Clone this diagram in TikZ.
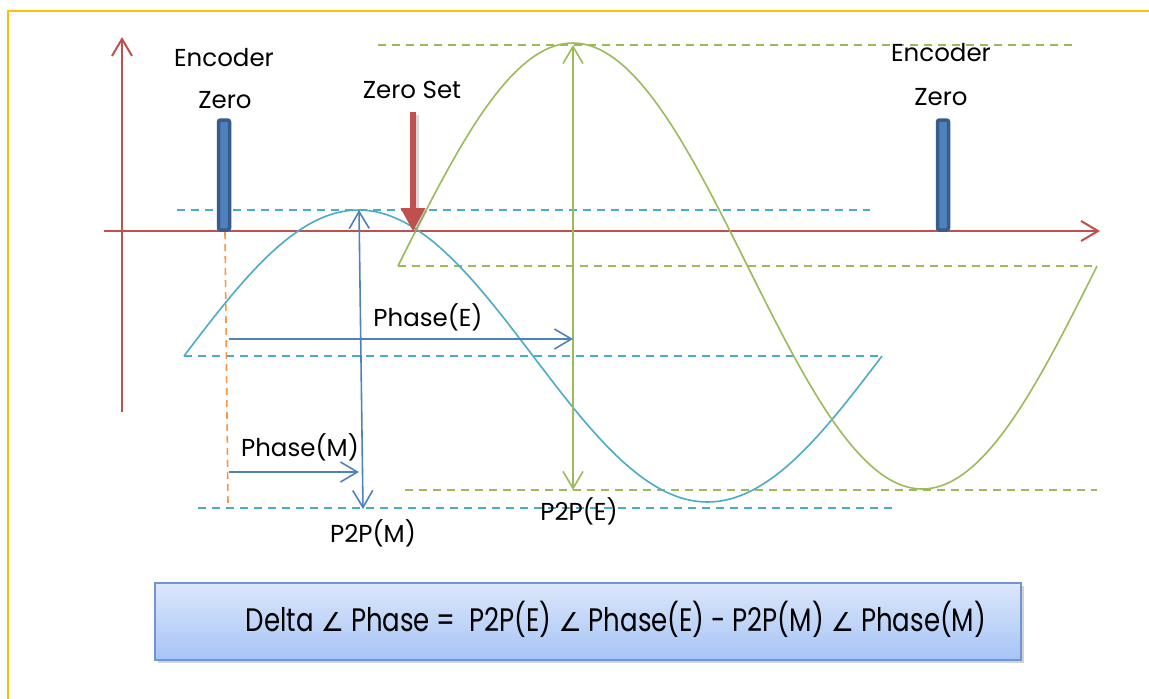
\documentclass[tikz,border=0pt]{standalone}
\usepackage{fontspec}
\setmainfont{Poppins}
\newfontfamily\boxfont[FakeStretch=0.8]{Poppins}
\newfontfamily\symfont{DejaVu Sans}
\usetikzlibrary{arrows.meta,shadows,calc}
\definecolor{axisred}{HTML}{C0504D}
\definecolor{cyanc}{HTML}{4BACC6}
\definecolor{greenc}{HTML}{9BBB59}
\definecolor{bluec}{HTML}{4F81BD}
\definecolor{orangec}{HTML}{F79646}
\definecolor{bardark}{HTML}{385D8A}
\definecolor{framey}{HTML}{FFC000}
\definecolor{boxtop}{HTML}{DCE7FA}
\definecolor{boxbot}{HTML}{A6C4F6}
\definecolor{boxline}{HTML}{7096D2}
\begin{document}
\begin{tikzpicture}[x=1pt,y=-1pt,
  >={Straight Barb[length=17pt,width=20pt]},
  lbl/.style={font=\fontsize{24.5}{28}\selectfont, inner sep=0pt},
  guide/.style={dash pattern=on 8pt off 6pt, line width=1.6pt},
  axisline/.style={draw=axisred, line width=2pt, ->},
  curve/.style={line width=1.6pt},
  bararrow/.style={draw=bluec, line width=1.6pt},
  encbar/.style={draw=bardark, line width=3.5pt, fill=bluec, minimum width=11pt, minimum height=110pt, rounded corners=2pt, inner sep=0pt},
  eqbox/.style={draw=boxline, line width=1.5pt, top color=boxtop, bottom color=boxbot, minimum width=866pt, minimum height=77pt, inner sep=0pt, drop shadow={shadow xshift=3pt, shadow yshift=-3pt, opacity=0.35}},
]
\useasboundingbox (0,0) rectangle (1149,699);
\fill[white] (0,0) rectangle (1149,699);
% frame
\draw[framey, line width=1.5pt] (8,699) -- (8,11) -- (1149,11);

% guide lines
\draw[guide, greenc] (378,45) -- (1072,45);
\draw[guide, greenc] (398,266) -- (1097,266);
\draw[guide, greenc] (405,490) -- (1097,490);
\draw[guide, cyanc] (177,210) -- (870,210);
\draw[guide, cyanc] (184,356) -- (882,356);
\draw[guide, cyanc] (198,508) -- (892,508);

% axes
\coordinate (ybot) at (122,412);
\coordinate (ytop) at (122,37);
\coordinate (xleft) at (104,231);
\coordinate (xright) at (1100,231);
\draw[axisline] (ybot) -- (ytop);
\draw[axisline] (xleft) -- (xright);

% curves
\draw[curve, cyanc] plot[domain=184:882, samples=140] (\x, {356 - 146*sin((\x-184)/698*360)});
\draw[curve, greenc] plot[domain=398:1097, samples=140] (\x, {266 - 223*sin((\x-398)/699*360)});

% orange dashed
\coordinate (oTop) at (225,232);
\coordinate (oBot) at (228,504);
\draw[orangec, line width=1.6pt, dash pattern=on 7pt off 5pt] (oTop) -- (oBot);

% encoder bars
\node[encbar] (barL) at (224,175) {};
\node[encbar] (barR) at (943,175) {};

% labels
\node[lbl] (encL1) at (224,58) {Encoder};
\node[lbl] (encL2) at (225,100) {Zero};
\node[lbl] (encR1) at (941,53) {Encoder};
\node[lbl] (encR2) at (941,97) {Zero};
\node[lbl] (zs) at (412,90) {Zero Set};

% zero set arrow
\coordinate (zsTop) at (413,112);
\coordinate (zsTip) at (413,231);
\draw[gray, opacity=0.3, line width=6pt, -{Triangle[length=23pt,width=25pt,line width=0pt]}] ($(zsTop)+(2.5,2.5)$) -- ($(zsTip)+(2.5,2.5)$);
\draw[axisred, line width=6pt, -{Triangle[length=23pt,width=25pt,line width=0pt]}] (zsTop) -- (zsTip);

% measurement arrows
\coordinate (mTop) at (359,210);
\coordinate (mBot) at (363,509);
\draw[bararrow, <->] (mTop) -- (mBot);
\coordinate (eTop) at (573,45);
\coordinate (eBot) at (573,490);
\draw[draw=greenc, line width=1.6pt, <->] (eTop) -- (eBot);
\coordinate (peS) at (229,339);
\coordinate (peE) at (573,339);
\draw[bararrow, ->] (peS) -- (peE);
\coordinate (pmS) at (229,472);
\coordinate (pmE) at (359,472);
\draw[bararrow, ->] (pmS) -- (pmE);

\node[lbl] (lpe) at (428,317) {Phase(E)};
\node[lbl] (lpm) at (300,447) {Phase(M)};
\node[lbl] (lp2m) at (373,533) {P2P(M)};
\node[lbl] (lp2e) at (579,511) {P2P(E)};

% formula box
\node[eqbox] (eq) at (588,621.5) {};
\node[inner sep=0pt, font=\boxfont\fontsize{32.5}{36}\selectfont] (eqtext) at (616,619) {Delta {\symfont\fontsize{26}{30}\selectfont ∠} Phase =\ \ P2P(E) {\symfont\fontsize{26}{30}\selectfont ∠} Phase(E) - P2P(M) {\symfont\fontsize{26}{30}\selectfont ∠} Phase(M)};
\end{tikzpicture}
\end{document}
